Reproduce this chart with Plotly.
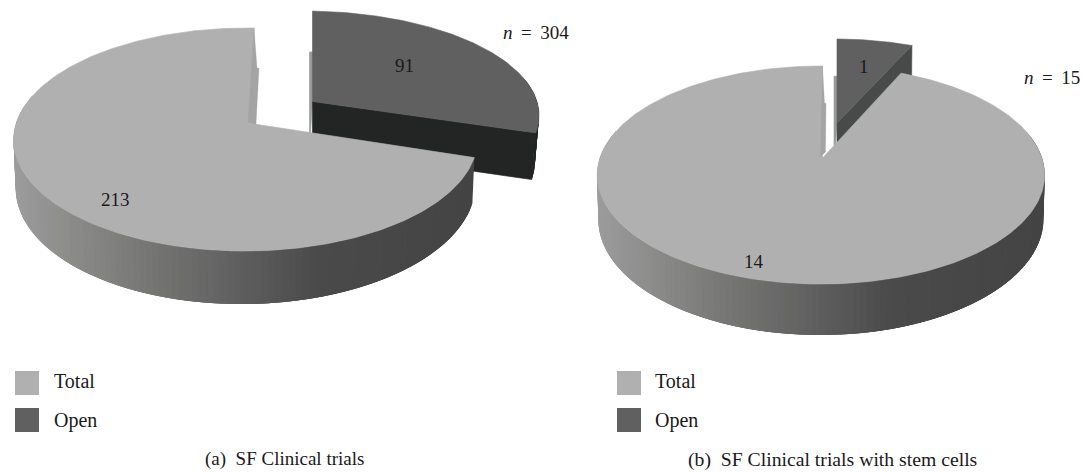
import math
import plotly.graph_objects as go

# ---- data ----
legend_labels = ["Total", "Open"]
trials_total = 213
trials_open = 91
stem_total = 14
stem_open = 1
n_labels = ["304", "15"]
captions = ["(a)  SF Clinical trials", "(b)  SF Clinical trials with stem cells"]

# ---- styles ----
TOP_TOTAL = "#afb0af"
TOP_OPEN = "#5f605f"
SERIF = "Liberation Serif"
GRAD = [(0.0, (156, 156, 156)), (0.26, (122, 122, 120)), (0.44, (100, 101, 100)),
        (0.66, (74, 74, 74)), (1.0, (67, 68, 67))]


def grad_col(f):
    f = max(0.0, min(1.0, f))
    for (a, ca), (b, cb) in zip(GRAD, GRAD[1:]):
        if f <= b:
            w = (f - a) / (b - a)
            return "rgb(%d,%d,%d)" % tuple(round(p + (q - p) * w) for p, q in zip(ca, cb))
    return "rgb(67,68,67)"


class Disc:
    """Perspective view of a round slab; angles run clockwise from the far side."""
    def __init__(self, ax, ay, R, A, k, j, h, shrink):
        self.__dict__.update(locals())

    def den(self, t):
        return 1 - self.k * (-math.cos(t)) + self.j * math.sin(t)

    def top(self, t):
        d = self.den(t)
        return self.ax + self.R * math.sin(t) / d, self.ay - self.A * math.cos(t) / d

    def low(self, t):
        x, y = self.top(t)
        return x + (self.ax - x) * self.shrink, y + self.h / self.den(t)

    def low_apex(self):
        return self.ax, self.ay + self.h


fig = go.Figure()


def poly(pts, color, lw=0.6):
    xs = [p[0] for p in pts] + [pts[0][0]]
    ys = [p[1] for p in pts] + [pts[0][1]]
    fig.add_trace(go.Scatter(x=xs, y=ys, mode="lines", fill="toself", fillcolor=color,
                             line=dict(color=color, width=lw), hoverinfo="skip"))


def arc(d, a, b, n=120):
    return [d.top(a + (b - a) * i / n) for i in range(n + 1)]


def rim(d, a, b, colorfn):
    a2, b2 = max(a, math.radians(75)), min(b, math.radians(285))
    if b2 <= a2:
        return
    n = max(3, int(math.degrees(b2 - a2) / 1.5))
    step = (b2 - a2) / n
    for i in range(n):
        t0 = a2 + step * i
        t1 = min(b2, t0 + 3 * step)  # overlap, so that no seams show
        ts = [t0 + (t1 - t0) * q / 4 for q in range(5)]
        pts = [d.top(t) for t in ts] + [d.low(t) for t in reversed(ts)]
        poly(pts, colorfn(d.top(t0 + step / 2)[0]), 0)


def draw_pie(total, opened, d_total, d_open, total_sliver, cut_col, xr):
    end = 2 * math.pi * opened / (opened + total)
    # open slice, exploded behind the rest
    fx, fy = d_open.top(0)
    drop = d_open.h / d_open.den(0)
    poly([(fx, fy + drop), (fx - 3, fy + drop), (d_open.ax - 3, d_open.ay + d_open.h),
          (d_open.ax, d_open.ay)], "#999a99")
    rim(d_open, 0, end, lambda x: cut_col)
    poly([(d_open.ax, d_open.ay), d_open.top(end), d_open.low(end), d_open.low_apex()], cut_col)
    poly([(d_open.ax, d_open.ay)] + arc(d_open, 0, end), TOP_OPEN)
    # total slice
    rim(d_total, end, 2 * math.pi, lambda x: grad_col((x - xr[0]) / (xr[1] - xr[0])))
    poly([(d_total.ax, d_total.ay)] + arc(d_total, end, 2 * math.pi, 300), TOP_TOTAL)
    # narrow cut wall that shows beside the far edge
    fx, fy = d_total.top(2 * math.pi)
    drop = d_total.h / d_total.den(0)
    (ix, iy), (ox, oy), (sx, wx) = total_sliver
    poly([(fx, fy), (d_total.ax + ix, d_total.ay + iy), (d_total.ax + ox, d_total.ay + oy),
          (fx + wx, fy + drop), (fx + sx, fy + drop)], "#a3a4a3", 0.3)


draw_pie(trials_total, trials_open,
         Disc(254, 124, 229.5, 109.3, 0.139, 0.036, 45.6, 0.009),
         Disc(312.5, 101.5, 234, 103, 0.139, 0.0426, 46.5, 0.018),
         ((-6, -2), (2, 0.5), (3, 5)), "#232524", (13, 474))
draw_pie(stem_total, stem_open,
         Disc(822.5, 158, 221, 106.4, 0.156, 0.007, 43, 0.005),
         Disc(837, 123, 211, 97.1, 0.156, 0.007, 43, 0.005),
         ((-2, -1), (3, -6), (2, 3.5)), "#484a49", (597, 1044))

# legends
for x0 in (27, 629):
    fig.add_trace(go.Scatter(x=[x0, x0], y=[383, 420], mode="markers", hoverinfo="skip",
                             marker=dict(symbol="square", size=24, color=[TOP_TOTAL, TOP_OPEN], line=dict(width=0))))


def note(x, y, text, anchor="left", size=19):
    fig.add_annotation(x=x, y=y, text=text, showarrow=False, xanchor=anchor, yanchor="middle",
                       font=dict(family=SERIF, size=size, color="#1a1a1a"))


note(52, 381, legend_labels[0], size=20)
note(52, 420, legend_labels[1], size=20)
note(653, 381, legend_labels[0], size=20)
note(653, 420, legend_labels[1], size=20)
note(203, 459, captions[0], size=19)
note(685.5, 459, captions[1], size=19.7)
note(404, 65, str(trials_open), "center")
note(115, 199, str(trials_total), "center")
note(754, 261, str(stem_total), "center")
note(864, 66, str(stem_open), "center")
GAP = "\u2005\u2009"
note(501, 32, "<i>n</i>" + GAP + "=" + GAP + n_labels[0])
note(1022, 77, "<i>n</i>" + GAP + "=" + GAP + n_labels[1])

fig.update_layout(width=1082, height=472, margin=dict(l=0, r=0, t=0, b=0),
                  showlegend=False, plot_bgcolor="white", paper_bgcolor="white",
                  xaxis=dict(range=[0, 1082], visible=False, fixedrange=True),
                  yaxis=dict(range=[472, 0], visible=False, fixedrange=True))

fig.write_html("out.html", config={"displayModeBar": False},
               post_script="document.body.style.margin='0';")
